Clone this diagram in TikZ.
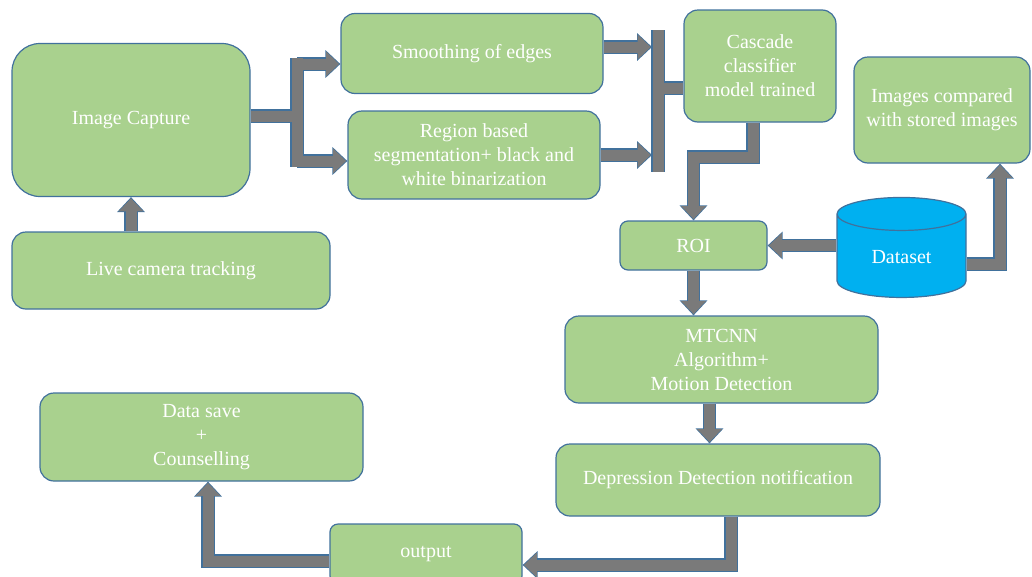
\documentclass[tikz,border=0pt]{standalone}
\usepackage{fontspec}
\setmainfont{Liberation Serif}
\usetikzlibrary{arrows.meta,shapes.geometric}
\definecolor{boxgreen}{HTML}{A9D18E}
\definecolor{boxedge}{HTML}{41719C}
\definecolor{pipegray}{HTML}{7A7A7A}
\definecolor{dbblue}{HTML}{00B0F0}

\begin{document}
\begin{tikzpicture}[x=1pt,y=-1pt,
  box/.style={draw=boxedge, fill=boxgreen, line width=1.2pt, rounded corners=14pt,
    text=white, align=center, inner sep=0pt, font=\fontsize{20}{24}\selectfont},
  pipeout/.style={draw=boxedge, line width=13.5pt},
  pipein/.style={draw=pipegray, line width=11pt},
  headout/.style={-{Triangle[width=27pt,length=15pt]}},
  headin/.style={-{Triangle[width=24pt,length=13pt]}, shorten >=1.3pt}]
\useasboundingbox (0,0) rectangle (1032,576);

\node[box, minimum width=238pt, minimum height=153pt, rounded corners=28pt] (cap) at (131,120) {Image Capture};
\node[box, minimum width=318pt, minimum height=77pt] (live) at (171,270.5) {Live camera tracking};
\node[box, minimum width=262pt, minimum height=80pt] (smooth) at (472,53.5) {Smoothing of edges};
\node[box, minimum width=252pt, minimum height=88pt] (region) at (474,155) {Region based\\segmentation+ black and\\white binarization};
\node[box, minimum width=152pt, minimum height=112pt] (cascade) at (760,66) {Cascade\\classifier\\model trained};
\node[box, minimum width=176pt, minimum height=106pt] (compared) at (942,110) {Images compared\\with stored images};
\node[box, minimum width=147pt, minimum height=49pt, rounded corners=8pt] (roi) at (693.5,245.5) {ROI};
\node[cylinder, shape border rotate=90, aspect=0.55, draw=boxedge, fill=dbblue, line width=1.2pt,
  minimum width=129pt, minimum height=100pt, inner sep=0pt, text=white,
  font=\fontsize{20}{24}\selectfont] (data) at (901.5,256) {\raisebox{-7pt}[0pt][0pt]{Dataset}};
\node[box, minimum width=313pt, minimum height=87pt] (mtcnn) at (721.5,359.5) {MTCNN\\Algorithm+\\Motion Detection};
\node[box, minimum width=324pt, minimum height=72pt] (depr) at (718,480) {Depression Detection notification};
\node[box, minimum width=323pt, minimum height=88pt] (save) at (201.5,437) {Data save\\+\\Counselling};
\node[box, minimum width=192pt, minimum height=60pt, rounded corners=8pt] (out) at (426,554) {output};

% bars and bends of the block arrows
\coordinate (forkT) at (297,58);
\coordinate (forkB) at (297,167);
\coordinate (forkM) at (297,116);
\coordinate (forkS) at (297,64);
\coordinate (forkR) at (297,161);
\coordinate (joinT) at (658,30);
\coordinate (joinB) at (658,172);
\coordinate (joinC) at (658,88);
\coordinate (inS) at (652,47);
\coordinate (inR) at (652,155);
\coordinate (bendC) at (753,157);
\coordinate (bendD) at (1000,264);
\coordinate (bendE) at (731,565);
\coordinate (bendF) at (208,561);

% outline first, then the grey inside
\foreach \p/\h in {pipeout/headout, pipein/headin} {
  \draw[\p,\h] (cap.south |- live.north) -- (cap.south);
  \draw[\p] (forkT) -- (forkB);
  \draw[\p] (forkM -| cap.east) -- (forkM);
  \draw[\p,\h] (forkS) -- (forkS -| smooth.west);
  \draw[\p,\h] (forkR) -- (forkR -| region.west);
  \draw[\p,\h] (inS -| smooth.east) -- (inS);
  \draw[\p,\h] (inR -| region.east) -- (inR);
  \draw[\p] (joinT) -- (joinB);
  \draw[\p] (joinC) -- (joinC -| cascade.west);
  \draw[\p,\h] (cascade.south -| bendC) -- (bendC) -| (roi.north);
  \draw[\p,\h] (roi.east -| data.west) -- (roi.east);
  \draw[\p,\h] (bendD -| data.east) -- (bendD) -- (bendD |- compared.south);
  \draw[\p,\h] (roi.south) -- (roi.south |- mtcnn.north);
  \draw[\p,\h] ([xshift=-12pt]mtcnn.south) -- ([xshift=-12pt]mtcnn.south |- depr.north);
  \draw[\p,\h] (depr.south -| bendE) -- (bendE) -- (bendE -| out.east);
  \draw[\p,\h] (bendF -| out.west) -- (bendF) -- (bendF |- save.south);
}
\end{tikzpicture}
\end{document}
